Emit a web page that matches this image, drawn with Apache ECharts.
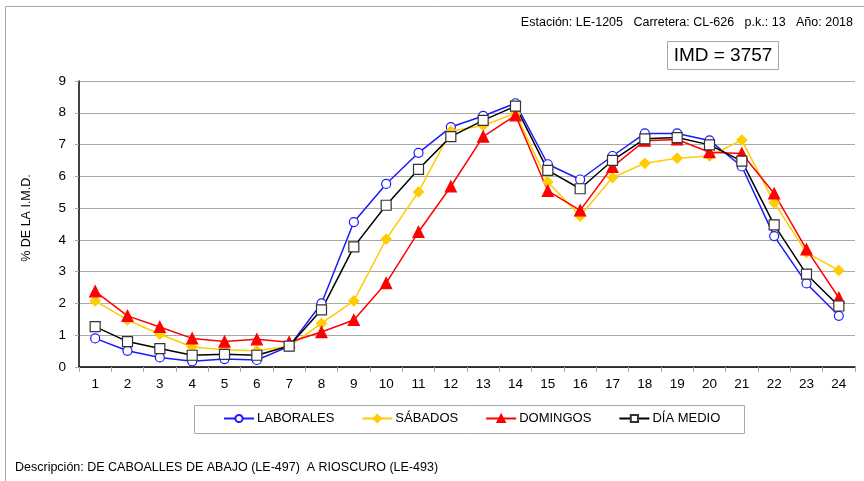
<!DOCTYPE html>
<html>
<head>
<meta charset="utf-8">
<script src="https://cdn.jsdelivr.net/npm/echarts@6/dist/echarts.min.js"></script>
<style>
  html, body { margin: 0; padding: 0; background: #fff; }
  #chart { width: 864px; height: 481px; }
</style>
</head>
<body>
<div id="chart"></div>
<script>
// Hours of the day (1..24)
const hours = ['1','2','3','4','5','6','7','8','9','10','11','12','13','14','15','16','17','18','19','20','21','22','23','24'];

// Hourly share of daily traffic (%) by day type
const laborales = [0.90, 0.51, 0.30, 0.18, 0.25, 0.22, 0.65, 2.00, 4.56, 5.76, 6.74, 7.55, 7.90, 8.30, 6.38, 5.90, 6.64, 7.35, 7.35, 7.13, 6.31, 4.12, 2.63, 1.61];
const sabados   = [2.08, 1.48, 1.03, 0.63, 0.54, 0.51, 0.65, 1.37, 2.08, 4.02, 5.51, 7.42, 7.60, 7.98, 5.82, 4.75, 5.96, 6.41, 6.57, 6.64, 7.14, 5.17, 3.60, 3.04];
const domingos  = [2.38, 1.61, 1.26, 0.90, 0.80, 0.87, 0.78, 1.10, 1.48, 2.64, 4.25, 5.68, 7.25, 7.92, 5.54, 4.93, 6.30, 7.12, 7.16, 6.76, 6.72, 5.46, 3.70, 2.18];
const diaMedio  = [1.27, 0.80, 0.58, 0.37, 0.40, 0.37, 0.66, 1.80, 3.78, 5.09, 6.22, 7.25, 7.76, 8.21, 6.19, 5.61, 6.50, 7.18, 7.22, 6.99, 6.48, 4.47, 2.92, 1.92];

const seriesNames = ['LABORALES', 'SÁBADOS', 'DOMINGOS', 'DÍA MEDIO'];
const headerText = 'Estación: LE-1205   Carretera: CL-626   p.k.: 13   Año: 2018';
const imdText = 'IMD = 3757';
const descText = 'Descripción: DE CABOALLES DE ABAJO (LE-497)  A RIOSCURO (LE-493)';
const yAxisTitle = '% DE LA I.M.D.';

const FONT = '"Liberation Sans", Arial, Helvetica, sans-serif';

const chart = echarts.init(document.getElementById('chart'), null, { renderer: 'canvas' });

function lineSeries(name, data, color, symbol, size, fill, border) {
  return {
    name: name,
    type: 'line',
    data: data,
    symbol: symbol,
    symbolSize: size,
    showAllSymbol: true,
    lineStyle: { color: color, width: 1.5 },
    itemStyle: { color: fill, borderColor: border, borderWidth: 1.2 },
    emphasis: { disabled: true },
    animation: false
  };
}

chart.setOption({
  animation: false,
  textStyle: { fontFamily: FONT },
  grid: { left: 79, right: 9, top: 81, bottom: 114, containLabel: false },
  graphic: [
    { type: 'rect', silent: true, z: -10,
      shape: { x: 5.5, y: 6.5, width: 900, height: 500 },
      style: { fill: '#fff', stroke: '#a8a8a8', lineWidth: 1 } },
    { type: 'text', silent: true,
      style: { text: headerText, x: 853, y: 23, align: 'right', verticalAlign: 'middle',
               font: '12.5px ' + FONT, fill: '#000' } },
    { type: 'rect', silent: true,
      shape: { x: 667.5, y: 41.5, width: 111, height: 28 },
      style: { fill: '#fff', stroke: '#a8a8a8', lineWidth: 1 } },
    { type: 'text', silent: true,
      style: { text: imdText, x: 723, y: 56, align: 'center', verticalAlign: 'middle',
               font: '19px ' + FONT, fill: '#000' } },
    { type: 'rect', silent: true,
      shape: { x: 194.5, y: 405.5, width: 550, height: 28 },
      style: { fill: '#fff', stroke: '#a8a8a8', lineWidth: 1 } },
    { type: 'text', silent: true,
      style: { text: descText, x: 15, y: 468, align: 'left', verticalAlign: 'middle',
               font: '12.5px ' + FONT, fill: '#000' } },
    { type: 'text', silent: true, rotation: Math.PI / 2, x: 27, y: 218,
      style: { text: yAxisTitle, align: 'center', verticalAlign: 'middle',
               font: '12.5px ' + FONT, fill: '#000' } }
  ],
  legend: {
    left: 223, top: 412,
    padding: 0,
    itemWidth: 30, itemHeight: 9, itemGap: 27,
    textStyle: { fontFamily: FONT, fontSize: 13, color: '#000', padding: [0, 0, 0, -2] },
    data: seriesNames,
    selectedMode: false
  },
  xAxis: {
    type: 'category',
    data: hours,
    boundaryGap: true,
    axisLine: { lineStyle: { color: '#000', width: 1.5 } },
    axisTick: { show: true, length: 5, alignWithLabel: false, lineStyle: { color: '#a8a8a8' } },
    axisLabel: { color: '#000', fontSize: 13.5, margin: 10, fontFamily: FONT, interval: 0 },
    splitLine: { show: false }
  },
  yAxis: {
    type: 'value',
    min: 0, max: 9, interval: 1,
    axisLine: { show: true, lineStyle: { color: '#000', width: 1.5 } },
    axisTick: { show: true, length: 4, lineStyle: { color: '#a8a8a8' } },
    axisLabel: { color: '#000', fontSize: 13.5, margin: 13, fontFamily: FONT },
    splitLine: { show: true, lineStyle: { color: '#a8a8a8', width: 1 } }
  },
  series: [
    lineSeries(seriesNames[0], laborales, '#1a1aff', 'circle', 9, '#fff', '#1a1aff'),
    lineSeries(seriesNames[1], sabados, '#ffcc00', 'diamond', 10, '#ffcc00', '#ffcc00'),
    lineSeries(seriesNames[2], domingos, '#ff0000', 'triangle', 11, '#ff0000', '#ff0000'),
    lineSeries(seriesNames[3], diaMedio, '#000000', 'rect', 10, '#fff', '#333')
  ]
});
</script>
</body>
</html>
